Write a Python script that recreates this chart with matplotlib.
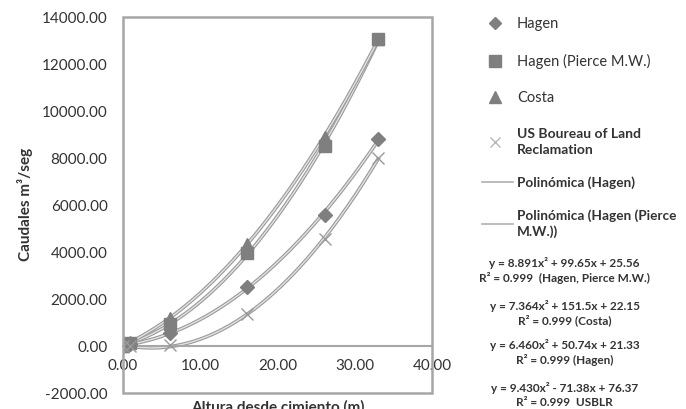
import numpy as np
import matplotlib
matplotlib.use("Agg")
import matplotlib.pyplot as plt
import matplotlib.patheffects as pe
from matplotlib.lines import Line2D
from matplotlib.patches import Rectangle

plt.rcParams['font.family'] = ['Lato', 'DejaVu Sans']

# data
altura = [0.0, 0.9, 6.1, 16.0, 26.1, 33.0]
hagen = [0, 80, 560, 2500, 5600, 8800]
pierce = [0, 130, 950, 3950, 8500, 13050]
costa = [0, 170, 1200, 4350, 8900, 13050]
usblr = [0, 15, 30, 1350, 4550, 8000]

names = ["Hagen", "Hagen (Pierce M.W.)", "Costa", "US Boureau of Land\nReclamation"]
trend_names = ["Polinómica (Hagen)", "Polinómica (Hagen (Pierce\nM.W.))"]
equations = [
    "y = 8.891x² + 99.65x + 25.56\nR² = 0.999  (Hagen, Pierce M.W.)",
    "y = 7.364x² + 151.5x + 22.15\nR² = 0.999 (Costa)",
    "y = 6.460x² + 50.74x + 21.33\nR² = 0.999 (Hagen)",
    "y = 9.430x² - 71.38x + 76.37\nR² = 0.999  USBLR",
]

txt = "#333333"
mk = "#7f7f7f"
frame = "#a6a6a6"

fig = plt.figure(figsize=(6.86, 4.09), dpi=100)
ax = fig.add_axes([0.179, 0.039, 0.451, 0.919])

# trend lines (2nd order polynomials)
xs = np.linspace(0, 33, 200)
trend = [pe.Stroke(linewidth=2.6, foreground="#9a9a9a"), pe.Normal()]
for serie in [pierce, costa, hagen, usblr]:
    c = np.polyfit(altura, serie, 2)
    ax.plot(xs, np.polyval(c, xs), color="#e2e2e2", lw=1.0, path_effects=trend, zorder=2)

ax.plot(altura, hagen, "D", color=mk, ms=7, ls="none", zorder=3)
ax.plot(altura, costa, "^", color=mk, ms=9, ls="none", zorder=3)
ax.plot(altura, pierce, "s", color=mk, ms=9, ls="none", zorder=3)
ax.plot(altura, usblr, "x", color="#9a9a9a", ms=9, mew=1.0, ls="none", zorder=3)

ax.set_xlim(0, 40)
ax.set_ylim(-2000, 14000)
ax.set_xticks(np.arange(0, 41, 10))
ax.set_yticks(np.arange(-2000, 14001, 2000))
ax.xaxis.set_major_formatter(lambda v, p: f"{v:.2f}")
ax.yaxis.set_major_formatter(lambda v, p: f"{v:.2f}")
ax.tick_params(axis="x", length=0, pad=9, labelsize=11, labelcolor=txt)
ax.tick_params(axis="y", length=0, pad=11, labelsize=11, labelcolor=txt)

for s in ["top", "right", "left"]:
    ax.spines[s].set_visible(False)
ax.spines["bottom"].set_position(("data", 0))
ax.spines["bottom"].set_color(frame)
ax.spines["bottom"].set_linewidth(1.5)
ax.add_patch(Rectangle((0, 0), 1, 1, transform=ax.transAxes, fill=False,
                       ec=frame, lw=1.8, clip_on=False, zorder=5))

fig.text(0.036, 0.5, "Caudales m³/seg", rotation=90, ha="center", va="center",
         fontsize=11, color=txt, fontweight="bold")
fig.text(0.405, 0.022, "Altura desde cimiento (m)", ha="center", va="top",
         fontsize=11, color=txt, fontweight="bold")

# legend: marker series
h1 = [
    Line2D([], [], marker="D", color=mk, ls="none", ms=6),
    Line2D([], [], marker="s", color=mk, ls="none", ms=8),
    Line2D([], [], marker="^", color=mk, ls="none", ms=8),
    Line2D([], [], marker="x", color="#b0b0b0", ls="none", ms=7, mew=0.9),
]
leg1 = fig.legend(h1, names, loc="upper left", bbox_to_anchor=(0.69, 0.99),
                  frameon=False, fontsize=10.5, labelspacing=1.55, handlelength=1.2,
                  handletextpad=0.9, labelcolor=txt)
for t in leg1.get_texts()[3:]:
    t.set_fontweight("bold")
    t.set_fontsize(10)
    t.set_linespacing(1.35)

h2 = [Line2D([], [], color="#b0b0b0", lw=1.2) for _ in trend_names]
leg2 = fig.legend(h2, trend_names, loc="upper left", bbox_to_anchor=(0.685, 0.6),
                  frameon=False, labelspacing=1.5, handlelength=2.3,
                  handletextpad=0.25, labelcolor=txt, prop={"weight": "bold", "size": 9.8})
for t in leg2.get_texts():
    t.set_linespacing(1.35)

ys = [0.338, 0.235, 0.138, 0.035]
for e, y in zip(equations, ys):
    fig.text(0.823, y, e, ha="center", va="center", fontsize=8.5, color=txt,
             fontweight="bold", linespacing=1.3)

fig.savefig("out.png", dpi=100, facecolor="white")
